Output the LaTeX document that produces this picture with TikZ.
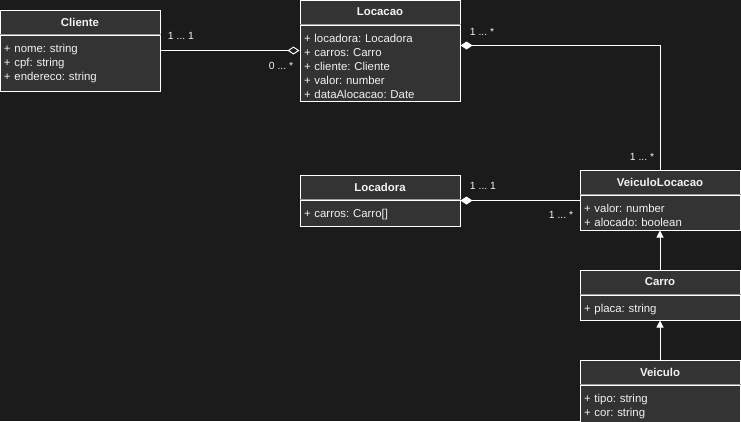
\documentclass[tikz,border=0pt]{standalone}
\usepackage{fontspec}
\setmainfont{Liberation Sans}
\usetikzlibrary{arrows.meta,positioning,calc}
\definecolor{umlBack}{HTML}{1B1B1B}
\definecolor{umlFill}{HTML}{333333}
\definecolor{umlRule}{HTML}{9A9A9A}
\definecolor{umlText}{HTML}{F2F2F2}
\newcommand\rowtop{\rule{0pt}{17pt}}
\newcommand\rowend[1]{\rule[-#1]{0pt}{#1}}
\frenchspacing

\begin{document}
\begin{tikzpicture}[x=1pt, y=-1pt,
      node distance=0pt,
      clshead/.style={draw=white, line width=1pt, fill=umlFill, text=umlText,
                      minimum width=160pt, minimum height=24pt, inner sep=0pt,
                      font=\fontsize{11.4}{14}\selectfont\bfseries},
      clsbody/.style={draw=white, line width=1pt, fill=umlFill, text=umlText,
                      minimum width=160pt, text width=152pt, inner xsep=4pt,
                      inner ysep=0pt, align=left,
                      font=\fontsize{11.4}{14}\selectfont},
      sepline/.style={draw=umlRule, line width=1pt},
      mult/.style={font=\fontsize{10.4}{12}\selectfont, text=umlText, inner sep=0pt},
      agg/.style={draw=white, line width=1pt, -{Diamond[open, length=12pt, width=8pt]}},
      comp/.style={draw=white, line width=1pt, {Diamond[length=12pt, width=8pt]}-},
      gen/.style={draw=white, line width=1pt, -{Triangle[length=7pt, width=7pt]}}]
    \fill[umlBack] (0,0) rectangle (741,421);
    \useasboundingbox (0,0) rectangle (741,421);
    % classes
    \node[clshead] (cliHead) at (80,22) {Cliente};
    \node[clsbody, below=of cliHead] (cliBody)
      {\rowtop+ nome: string\\+ cpf: string\\+ endereco: string\rowend{11pt}};
    \node[clshead] (locHead) at (380,12) {Locacao};
    \node[clsbody, below=of locHead] (locBody)
      {\rowtop+ locadora: Locadora\\+ carros: Carro\\+ cliente: Cliente\\+ valor: number\\+ dataAlocacao: Date\rowend{3pt}};
    \node[clshead] (ldHead) at (380,187) {Locadora};
    \node[clsbody, below=of ldHead] (ldBody)
      {\rowtop+ carros: Carro[]\rowend{9pt}};
    \node[clshead] (vlHead) at (660,182) {VeiculoLocacao};
    \node[clsbody, below=of vlHead] (vlBody)
      {\rowtop+ valor: number\\+ alocado: boolean\rowend{4pt}};
    \node[clshead] (carHead) at (660,282) {Carro};
    \node[clsbody, below=of carHead] (carBody)
      {\rowtop+ placa: string\rowend{8pt}};
    \node[clshead] (veiHead) at (660,372) {Veiculo};
    \node[clsbody, below=of veiHead] (veiBody)
      {\rowtop+ tipo: string\\+ cor: string\rowend{12pt}};
    \foreach \cls in {cli,loc,ld,vl,car,vei}
      \draw[sepline] (\cls Head.south west) -- (\cls Head.south east);
    % relations
    \draw[agg] ([yshift=-16pt]cliBody.north east) -- ([yshift=-26pt]locBody.north west);
    \draw[comp] ([yshift=-21pt]locBody.north east) -| (vlHead.north);
    \draw[comp] ([yshift=-1pt]ldHead.south east) -- ([yshift=-6pt]vlBody.north west);
    \draw[gen] (carHead.north) -- (vlBody.south);
    \draw[gen] (veiHead.north) -- (carBody.south);
    % multiplicities
    \node[mult] (m1) at (181,36) {1 ... 1};
    \node[mult] (m2) at (281,66) {0 ... *};
    \node[mult] (m3) at (482,32) {1 ... *};
    \node[mult] (m4) at (642,157) {1 ... *};
    \node[mult] (m5) at (483,186) {1 ... 1};
    \node[mult] (m6) at (561,215) {1 ... *};
  \end{tikzpicture}
\end{document}
